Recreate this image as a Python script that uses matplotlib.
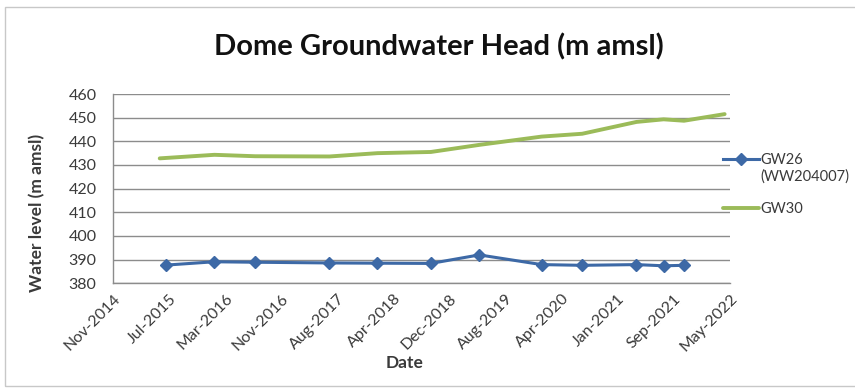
import matplotlib
matplotlib.use("Agg")
import matplotlib.pyplot as plt
import matplotlib.dates as mdates
from matplotlib.patches import Rectangle
import datetime as dt

# Monitoring dates and heads (m amsl)
gw26_dates = ["2015-06-30", "2016-01-31", "2016-07-31", "2017-06-27", "2018-01-27",
              "2018-09-22", "2019-04-26", "2020-01-29", "2020-07-28", "2021-03-27",
              "2021-07-26", "2021-10-25"]
gw26_head = [387.7, 389.1, 388.9, 388.6, 388.5, 388.4, 392.0, 387.9, 387.6, 387.9, 387.4, 387.6]

gw30_dates = ["2015-06-01", "2016-01-31", "2016-07-31", "2017-06-27", "2018-01-27",
              "2018-09-22", "2019-04-26", "2020-01-29", "2020-07-28", "2021-03-27",
              "2021-07-26", "2021-10-25", "2022-04-24"]
gw30_head = [432.8, 434.3, 433.7, 433.6, 435.0, 435.5, 438.5, 442.0, 443.2, 448.2, 449.3, 448.7, 451.5]

series_labels = ["GW26", "GW30"]
gw26_alias = "(WW204007)"
y_ticks = [380, 390, 400, 410, 420, 430, 440, 450, 460]

# Date axis: major unit of 250 days
axis_start = dt.date(2014, 11, 6)
tick_step_days = 250
n_ticks = 12

def to_dates(values):
    return [dt.date.fromisoformat(v) for v in values]

plt.rcParams["font.family"] = ["Lato", "DejaVu Sans"]

fig = plt.figure(figsize=(8.55, 3.88), dpi=100)
fig.patches.append(Rectangle((5 / 855, 2 / 388), 1.0, 379 / 388, transform=fig.transFigure,
                             fill=False, edgecolor="#c8c8c8", linewidth=1.0))

ax = fig.add_axes([113.3 / 855, 1 - 283.3 / 388, (730 - 113.3) / 855, (283.3 - 94) / 388])

tick_dates = [axis_start + dt.timedelta(days=tick_step_days * i) for i in range(n_ticks)]

blue = "#3d69a6"
green = "#9bbb59"
text_col = "#3a3a3a"

ax.plot(to_dates(gw26_dates), gw26_head, color=blue, lw=2.2, marker="D", markersize=6.5,
        label=series_labels[0], zorder=4)
ax.plot(to_dates(gw30_dates), gw30_head, color=green, lw=2.8, solid_capstyle="round",
        label=series_labels[1], zorder=3)

ax.set_xlim(tick_dates[0], tick_dates[-1])
ax.set_ylim(y_ticks[0], y_ticks[-1])
ax.set_yticks(y_ticks)
ax.set_xticks(tick_dates)
ax.xaxis.set_major_formatter(mdates.DateFormatter("%b-%Y"))

ax.tick_params(axis="both", length=0, labelsize=11.5, colors=text_col)
ax.tick_params(axis="y", pad=12)
ax.tick_params(axis="x", pad=6)

for lbl in ax.get_xticklabels():
    lbl.set_rotation(45)
    lbl.set_ha("right")
    lbl.set_va("top")
    lbl.set_rotation_mode("anchor")

ax.grid(axis="y", color="#8c8c8c", lw=1.0)
ax.set_axisbelow(True)
for side in ("top", "right"):
    ax.spines[side].set_visible(False)
for side in ("left", "bottom"):
    ax.spines[side].set_color("#8c8c8c")
    ax.spines[side].set_linewidth(1.0)

ax.set_ylabel("Water level (m amsl)", fontsize=12.5, fontweight="bold", color=text_col)
ax.yaxis.set_label_coords(-(113.3 - 45) / (730 - 113.3), 0.37)
ax.set_xlabel("Date", fontsize=12.5, fontweight="bold", color=text_col)
ax.xaxis.set_label_coords((405 - 113.3) / (730 - 113.3), -(363 - 283.3) / (283.3 - 94))
ax.xaxis.label.set_va("center")

fig.text(439 / 855, 1 - 47 / 388, "Dome Groundwater Head (m amsl)", ha="center", va="center",
         fontsize=21, fontweight="bold", color="#111111")

leg = ax.legend(loc="upper left", bbox_to_anchor=((723 - 113.3) / (730 - 113.3), 0.69),
                frameon=False, fontsize=10.5, handlelength=2.5, handletextpad=0.05,
                labelspacing=2.4, labelcolor=text_col, borderaxespad=0, borderpad=0)

# Second line of the GW26 entry, placed under its legend label
fig.canvas.draw()
bb = leg.get_texts()[0].get_window_extent()
fig.text(bb.x0, bb.y0 - 3, gw26_alias, ha="left", va="top", fontsize=10.5, color=text_col,
         transform=None)

fig.savefig("out.png", dpi=100)
